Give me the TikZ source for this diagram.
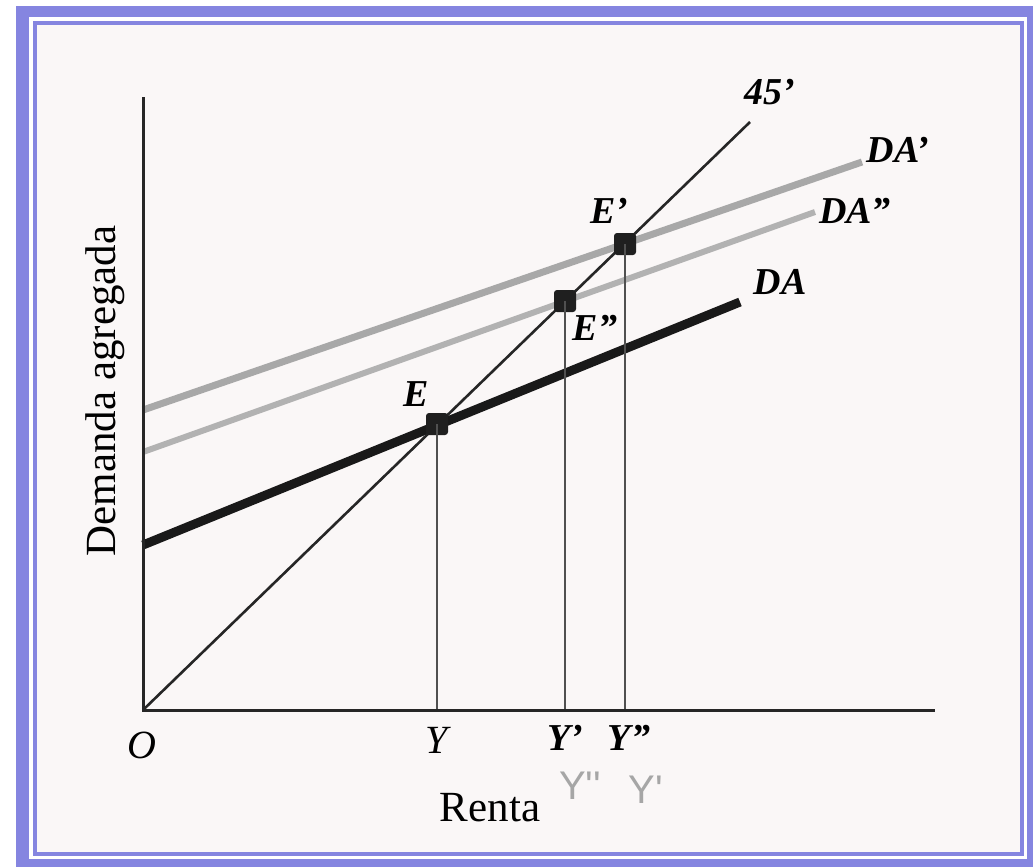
\documentclass[tikz,border=0pt]{standalone}
\usepackage{fontspec}
\setmainfont{Liberation Serif}
\newfontfamily\handfont{Liberation Sans}
\definecolor{frameblue}{RGB}{133,133,224}
\definecolor{paper}{RGB}{250,247,247}
\definecolor{daprime}{RGB}{168,168,168}
\definecolor{dadprime}{RGB}{178,178,178}
\definecolor{dropgray}{RGB}{80,80,80}
\begin{document}
\begin{tikzpicture}[x=1pt,y=-1pt,
  lbl/.style={font=\fontsize{38}{40}\selectfont\bfseries\itshape, inner sep=0pt},
  axlbl/.style={font=\fontsize{40}{42}\selectfont\itshape, inner sep=0pt},
  titlelbl/.style={font=\fontsize{43}{45}\selectfont, inner sep=0pt},
  handlbl/.style={font=\fontsize{40}{42}\selectfont\handfont, text=black!35, inner sep=0pt},
  eqpt/.style={fill=black!88, minimum size=22pt, inner sep=0pt, rounded corners=3pt},
  axisline/.style={line width=3pt, black!85},
  diagline/.style={line width=2.6pt, black!85},
  dropline/.style={line width=2.4pt, dropgray},
  dabase/.style={line width=9pt, black!90},
  daup/.style={line width=7pt, daprime},
  damid/.style={line width=6pt, dadprime}]
\useasboundingbox (0,0) rectangle (1033,867);
% frame
\fill[white] (0,0) rectangle (1033,867);
\fill[frameblue] (16,6) rectangle (1033,867);
\fill[white] (29,17) rectangle (1027,859);
\fill[frameblue] (33,21) rectangle (1024,856);
\fill[paper] (37,25) rectangle (1020,852);
% coordinates
\coordinate (O) at (143,710);
\coordinate (ytop) at (143,97);
\coordinate (xend) at (935,710);
\coordinate (t45) at (750,122);
\coordinate (da0) at (143,545);
\coordinate (da1) at (740,302);
\coordinate (dap0) at (143,410);
\coordinate (dap1) at (862,162);
\coordinate (dapp0) at (143,452);
\coordinate (dapp1) at (815,212);
% curves
\draw[daup] (dap0) -- (dap1);
\draw[damid] (dapp0) -- (dapp1);
\draw[dabase] (da0) -- (da1);
\draw[diagline] (O) -- (t45);
% equilibrium points
\node[eqpt] (E) at (437,424) {};
\node[eqpt] (Epp) at (565,301) {};
\node[eqpt] (Ep) at (625,244) {};
\draw[dropline] (E.center) -- (E.center |- O);
\draw[dropline] (Epp.center) -- (Epp.center |- O);
\draw[dropline] (Ep.center) -- (Ep.center |- O);
% axes
\draw[axisline] (ytop) -- (O) -- (xend);
% labels
\node[lbl] (l45) at (770,92) {45'};
\node[lbl] (lDAp) at (898,150) {DA'};
\node[lbl] (lDApp) at (855,211) {DA''};
\node[lbl] (lDA) at (780,282) {DA};
\node[lbl] (lE) at (416,394) {E};
\node[lbl] (lEp) at (609,211) {E'};
\node[lbl] (lEpp) at (595,328) {E''};
\node[axlbl] (lO) at (142,745) {O};
\node[axlbl] (lY) at (437,740) {Y};
\node[lbl] (lYp) at (565,738) {Y'};
\node[lbl] (lYpp) at (629,738) {Y''};
\node[handlbl] (hYpp) at (580,786) {Y''};
\node[handlbl] (hYp) at (646,790) {Y'};
\node[titlelbl] (renta) at (490,808) {Renta};
\node[titlelbl, rotate=90] (demanda) at (105,391) {Demanda agregada};
\end{tikzpicture}
\end{document}
